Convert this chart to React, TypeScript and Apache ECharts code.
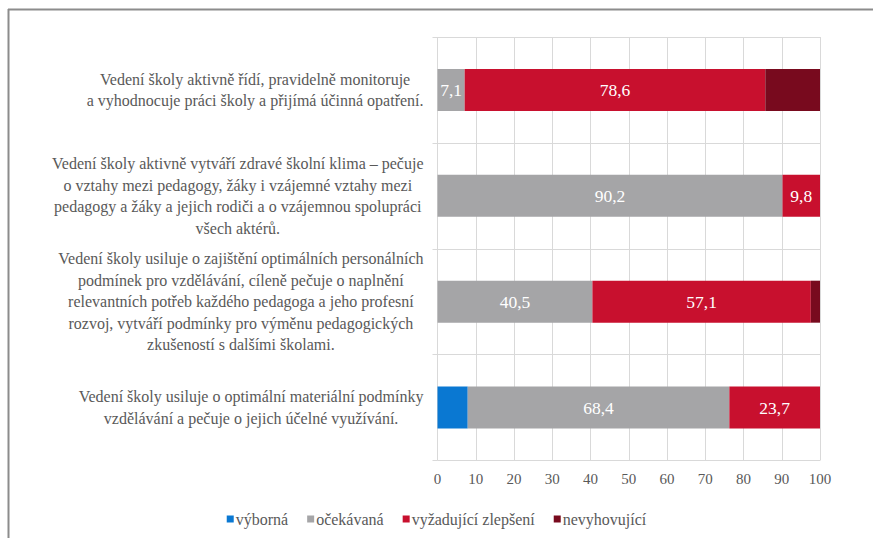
import React, { useEffect, useRef } from "react";
import * as echarts from "echarts";

const categories: string[] = [
  "Vedení školy aktivně řídí, pravidelně monitoruje\na vyhodnocuje práci školy a přijímá účinná opatření.",
  "Vedení školy aktivně vytváří zdravé školní klima – pečuje\no vztahy mezi pedagogy, žáky i vzájemné vztahy mezi\npedagogy a žáky a jejich rodiči a o vzájemnou spolupráci\nvšech aktérů.",
  "Vedení školy usiluje o zajištění optimálních personálních\npodmínek pro vzdělávání, cíleně pečuje o naplnění\nrelevantních potřeb každého pedagoga a jeho profesní\nrozvoj, vytváří podmínky pro výměnu pedagogických\nzkušeností s dalšími školami.",
  "Vedení školy usiluje o optimální materiální podmínky\nvzdělávání a pečuje o jejich účelné využívání.",
];

const seriesNames: string[] = ["výborná", "očekávaná", "vyžadující zlepšení", "nevyhovující"];
const vyborna: number[] = [0, 0, 0, 7.9];
const ocekavana: number[] = [7.1, 90.2, 40.5, 68.4];
const zlepseni: number[] = [78.6, 9.8, 57.1, 23.7];
const nevyhovujici: number[] = [14.3, 0, 2.4, 0];
const seriesColors: string[] = ["#0a78d2", "#a5a5a7", "#c8102e", "#780a1e"];
const showLabels: boolean[] = [false, true, true, false];

const FONT = "Liberation Serif";
const TEXT_COLOR = "#595959";

export default function App() {
  const ref = useRef<HTMLDivElement>(null);
  useEffect(() => {
    if (!ref.current) return;
    const chart = echarts.init(ref.current, undefined, { renderer: "svg" });
    const data = [vyborna, ocekavana, zlepseni, nevyhovujici];
    chart.setOption({
      animation: false,
      backgroundColor: "#ffffff",
      textStyle: { fontFamily: FONT },
      graphic: [
        { type: "line", shape: { x1: 8, y1: 9.5, x2: 873, y2: 9.5 }, style: { stroke: "#8c8c8c", lineWidth: 2 } },
        { type: "line", shape: { x1: 8.5, y1: 9, x2: 8.5, y2: 538 }, style: { stroke: "#8c8c8c", lineWidth: 2 } },
      ],
      legend: {
        left: "center",
        top: 506,
        icon: "rect",
        itemWidth: 7,
        itemHeight: 7,
        itemGap: 19,
        data: seriesNames,
        textStyle: { fontFamily: FONT, fontSize: 16, color: TEXT_COLOR, padding: [0, 0, 0, -3] },
      },
      grid: { left: 437.5, width: 382.5, top: 37, height: 423.5 },
      xAxis: {
        type: "value",
        min: 0,
        max: 100,
        interval: 10,
        axisLine: { show: false },
        axisTick: { show: false },
        axisLabel: { fontFamily: FONT, fontSize: 15, color: TEXT_COLOR, margin: 11 },
        splitLine: { show: true, lineStyle: { color: "#d9d9d9", width: 1 } },
      },
      yAxis: {
        type: "category",
        inverse: true,
        data: categories,
        axisLine: { show: false },
        axisTick: { show: true, length: 5, lineStyle: { color: "#d9d9d9" } },
        splitLine: { show: true, lineStyle: { color: "#d9d9d9", width: 1 } },
        axisLabel: {
          margin: 14,
          align: "right",
          fontFamily: FONT,
          fontSize: 16,
          formatter: (v: string) => v.split("\n").map((l) => "{c|" + l + "}").join("\n"),
          rich: {
            c: { align: "center", fontFamily: FONT, fontSize: 16, color: TEXT_COLOR, lineHeight: 21.5 },
          },
        },
      },
      series: seriesNames.map((name, i) => ({
        name,
        type: "bar",
        stack: "total",
        barWidth: 42,
        data: data[i],
        itemStyle: { color: seriesColors[i] },
        label: {
          show: showLabels[i],
          position: "inside",
          color: "#ffffff",
          fontFamily: FONT,
          fontSize: 17.5,
          formatter: (p: any) => (p.value > 0 ? Number(p.value).toFixed(1).replace(".", ",") : ""),
        },
      })),
    });
    return () => chart.dispose();
  }, []);
  return <div ref={ref} style={{ position: "absolute", left: 0, top: 0, width: 873, height: 538 }} />;
}
